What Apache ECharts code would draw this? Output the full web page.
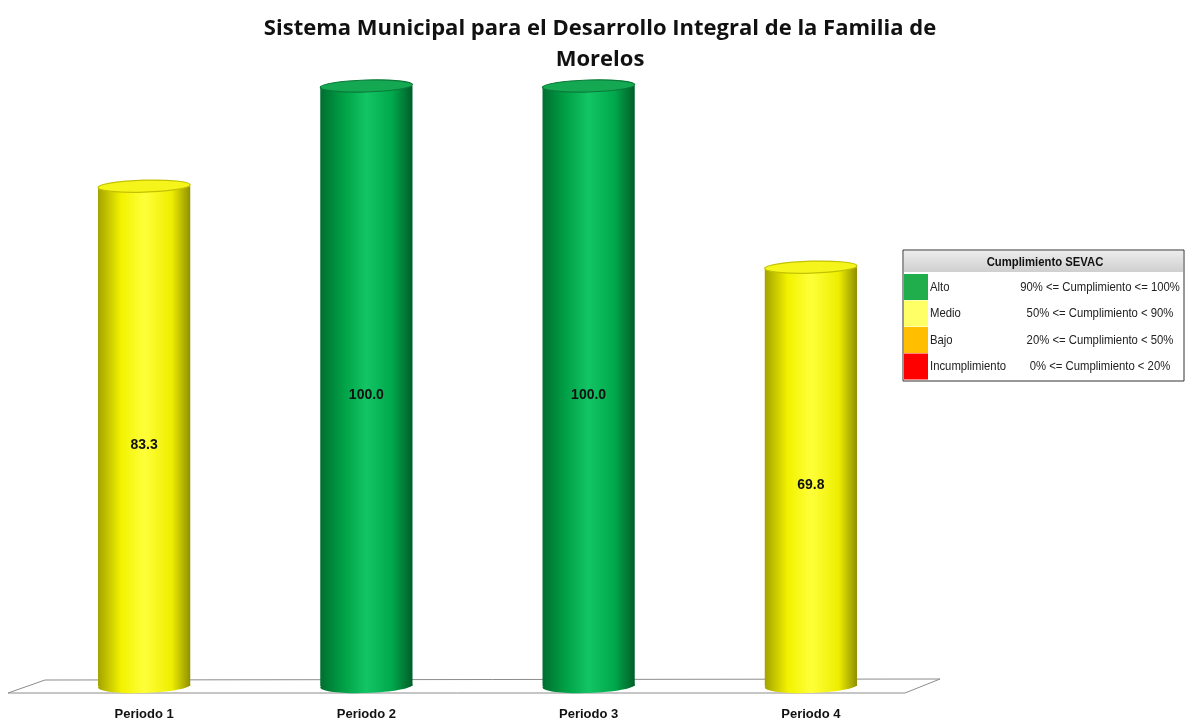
<!DOCTYPE html>
<html lang="es">
<head>
<meta charset="UTF-8">
<title>SEVAC</title>
<script src="https://cdn.jsdelivr.net/npm/echarts@6/dist/echarts.min.js"></script>
<style>
  html, body { margin: 0; padding: 0; background: #fff; }
  #main { width: 1185px; height: 721px; }
</style>
</head>
<body>
<div id="main"></div>
<script>
  // datos
  var periodos = ['Periodo 1', 'Periodo 2', 'Periodo 3', 'Periodo 4'];
  var valores = [83.3, 100.0, 100.0, 69.8];
  var niveles = ['Medio', 'Alto', 'Alto', 'Medio'];

  var leyendaNombres = ['Alto', 'Medio', 'Bajo', 'Incumplimiento'];
  var leyendaRangos = ['90% <= Cumplimiento <= 100%', '50% <= Cumplimiento < 90%', '20% <= Cumplimiento < 50%', '0% <= Cumplimiento < 20%'];
  var leyendaColores = ['#1fae4b', '#ffff66', '#ffbf00', '#ff0000'];

  // colores de los cilindros
  var estilos = {
    Alto: {
      body: [['#006f30', 0], ['#00a046', 0.25], ['#12c565', 0.5], ['#00a84b', 0.78], ['#005e28', 1]],
      top: '#14a852', rim: '#0b7a3a'
    },
    Medio: {
      body: [['#a3a300', 0], ['#f2f200', 0.25], ['#ffff3a', 0.5], ['#eeee00', 0.8], ['#8f8f00', 1]],
      top: '#f5f51c', rim: '#c2c200'
    }
  };

  function grad(stops) {
    return new echarts.graphic.LinearGradient(0, 0, 1, 0, stops.map(function (s) {
      return { offset: s[1], color: s[0] };
    }));
  }

  var chart = echarts.init(document.getElementById('main'));

  var data = valores.map(function (v, i) { return [i, v, niveles[i]]; });

  var fuenteLeyenda = '13px "Liberation Sans", Arial';
  var legendGraphics = [];
  var lx = 903, ly = 250, lw = 281;
  legendGraphics.push({
    type: 'rect', shape: { x: lx, y: ly, width: lw, height: 131 },
    style: { fill: '#fff', stroke: '#333', lineWidth: 1 }, z: 10
  });
  legendGraphics.push({
    type: 'rect', shape: { x: lx + 1, y: ly + 1, width: lw - 2, height: 21 },
    style: { fill: new echarts.graphic.LinearGradient(0, 0, 0, 1, [{ offset: 0, color: '#ececec' }, { offset: 1, color: '#cfcfcf' }]) }, z: 11
  });
  legendGraphics.push({
    type: 'text', x: 1045, y: ly + 12, scaleX: 0.87,
    style: { text: 'Cumplimiento SEVAC', font: 'bold 13px "Liberation Sans", Arial', fill: '#111', align: 'center', verticalAlign: 'middle' }, z: 12
  });
  for (var k = 0; k < leyendaNombres.length; k++) {
    var ry = ly + 24 + k * 26.5;
    legendGraphics.push({
      type: 'rect', shape: { x: lx + 1, y: ry, width: 24, height: 26 },
      style: { fill: leyendaColores[k] }, z: 11
    });
    legendGraphics.push({
      type: 'text', x: lx + 27, y: ry + 13, scaleX: 0.87,
      style: { text: leyendaNombres[k], font: fuenteLeyenda, fill: '#222', verticalAlign: 'middle' }, z: 12
    });
    legendGraphics.push({
      type: 'text', x: 1100, y: ry + 13, scaleX: 0.87,
      style: { text: leyendaRangos[k], font: fuenteLeyenda, fill: '#222', align: 'center', verticalAlign: 'middle' }, z: 12
    });
  }

  var option = {
    animation: false,
    title: {
      text: 'Sistema Municipal para el Desarrollo Integral de la Familia de\nMorelos',
      left: 595, top: 8, textAlign: 'center',
      textStyle: { fontFamily: '"Open Sans", sans-serif', fontWeight: 'bold', fontSize: 22, lineHeight: 31, color: '#111' }
    },
    grid: { left: 33, right: 263, top: 86, bottom: 35 },
    xAxis: {
      type: 'category', data: periodos,
      axisLine: { show: false }, axisTick: { show: false },
      axisLabel: { margin: 22, color: '#111', fontFamily: '"Liberation Sans", Arial', fontWeight: 'bold', fontSize: 13 }
    },
    yAxis: {
      type: 'value', min: 0, max: 100, show: false, splitLine: { show: false }
    },
    graphic: [{
      type: 'polygon',
      shape: { points: [[8, 693], [45, 680], [940, 679], [905, 693]] },
      style: { fill: '#fff', stroke: '#8c8c8c', lineWidth: 1 }, z: -1
    }].concat(legendGraphics),
    series: [{
      type: 'custom',
      data: data,
      encode: { x: 0, y: 1 },
      renderItem: function (params, api) {
        var i = api.value(0);
        var top = api.coord([i, api.value(1)]);
        var base = api.coord([i, 0]);
        var w = api.size([1, 0])[0] * 0.415;
        var st = estilos[niveles[params.dataIndex]];
        var x0 = top[0] - w / 2;
        return {
          type: 'group',
          children: [
            { type: 'ellipse', shape: { cx: base[0], cy: base[1], rx: w / 2, ry: 7 }, rotation: 0.03, originX: base[0], originY: base[1], style: { fill: grad(st.body) } },
            { type: 'rect', shape: { x: x0, y: top[1], width: w, height: base[1] - top[1] }, style: { fill: grad(st.body) } },
            { type: 'ellipse', shape: { cx: top[0], cy: top[1], rx: w / 2, ry: 6 }, rotation: 0.03, originX: top[0], originY: top[1], style: { fill: st.top, stroke: st.rim, lineWidth: 1.2 } },
            {
              type: 'text', x: top[0], y: (top[1] + base[1]) / 2 + 9,
              style: { text: api.value(1).toFixed(1), font: 'bold 14px "Liberation Sans", Arial', fill: '#111', align: 'center', verticalAlign: 'middle' }
            }
          ]
        };
      }
    }]
  };

  chart.setOption(option);
</script>
</body>
</html>
